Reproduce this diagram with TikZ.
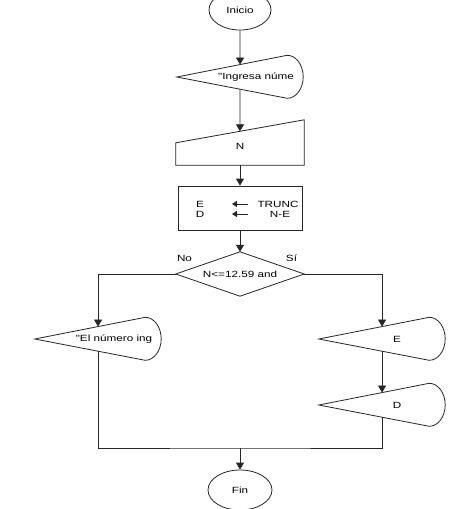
\documentclass[tikz,border=0pt]{standalone}
\usepackage{fontspec}
\newfontfamily\diafont{Liberation Sans}[FakeStretch=1.3]
\usetikzlibrary{arrows.meta,positioning,calc,shapes.geometric}

% outline of a display symbol (point on the left, rounded on the right)
\newcommand\dispout[1]{%
  \coordinate (#1-a) at ($(#1.north east)+(-16,0)$);
  \coordinate (#1-b) at ($(#1.south east)+(-16,0)$);
  \draw[line] (#1.west) -- (#1-a) arc[start angle=90, end angle=-90, x radius=16pt, y radius=21.5pt] -- cycle;
  \coordinate (#1-top) at ($(#1.west)!0.573!(#1-a)$);
  \coordinate (#1-bot) at ($(#1.west)!0.573!(#1-b)$);
}
% outline of a manual input symbol (slanted top)
\newcommand\manout[1]{%
  \coordinate (#1-c) at ($(#1.north west)+(0,23)$);
  \draw[line] (#1-c) -- (#1.north east) -- (#1.south east) -- (#1.south west) -- cycle;
  \coordinate (#1-top) at ($(#1-c)!0.5!(#1.north east)$);
}

\begin{document}
\begin{tikzpicture}[
    x=1pt, y=-1pt,
    every node/.style={font=\diafont\fontsize{9}{11}\selectfont, text=black},
    line/.style={draw=black!85, line width=0.8pt},
    flow/.style={line, -{Triangle[width=8pt, length=7pt]}},
    assign/.style={line, -{Triangle[width=6pt, length=5pt]}},
    terminal/.style={ellipse, line, minimum width=62pt, minimum height=40pt, inner sep=0pt},
    display/.style={minimum width=126pt, minimum height=43pt, inner sep=0pt},
    manual/.style={minimum width=128pt, minimum height=45pt, inner sep=0pt},
    process/.style={rectangle, line, minimum width=124pt, minimum height=44pt, inner sep=0pt},
    decision/.style={minimum width=128pt, minimum height=44pt, inner sep=0pt},
    branch/.style={inner sep=0pt},
]
\useasboundingbox[fill=white] (0,0) rectangle (459,509);

% === Main column ===
\node[terminal] (inicio) at (240,10) {Inicio};

\node[display, label={[xshift=16pt]center:{"Ingresa núme}}] (d1) at (240,77) {};
\dispout{d1}

\node[manual, label={[yshift=-4pt]center:N}] (n) at (240,142.5) {};
\manout{n}

\node[process] (proc) at (240,208) {};
\node (pe) at (200,204) {E};
\node (pt) at (278,204) {TRUNC};
\node (pd) at (200,214) {D};
\node (pn) at (280,214) {N-E};
\draw[assign] (248,204) -- (232,204);
\draw[assign] (248,214) -- (232,214);

% decision
\node[decision] (cond) at (240,274) {N<=12.59 and};
\draw[line] (cond.north) -- (cond.east) -- (cond.south) -- (cond.west) -- cycle;
\node[branch, above right=12pt and 1pt of cond.west] (no) {No};
\node[branch, above left=12pt and 7pt of cond.east] (si) {Sí};

% === Branches ===
\node[display, label={[xshift=16pt]center:{"El número ing}}] (d2) at (98,339) {};
\dispout{d2}

\node[display, label={[xshift=15pt]center:E}] (de) at (382,339) {};
\dispout{de}

\node[display, label={[xshift=15pt]center:D}] (dd) at (382,405) {};
\dispout{dd}

\coordinate (merge) at (240,448);
\node[terminal, minimum width=64pt] (fin) at (240,490) {Fin};

% === Connectors ===
\draw[flow] (inicio) -- (d1-top);
\draw[flow] (d1-bot) -- (n-top);
\draw[flow] (n) -- (proc);
\draw[flow] (proc) -- (cond);
\draw[flow] (cond.west) -| (d2-top);
\draw[flow] (cond.east) -| (de-top);
\draw[flow] (de-bot) -- (dd-top);
\draw[line] (d2-bot) |- (merge) -| (dd-bot);
\draw[flow] (merge) -- (fin);

\end{tikzpicture}
\end{document}
